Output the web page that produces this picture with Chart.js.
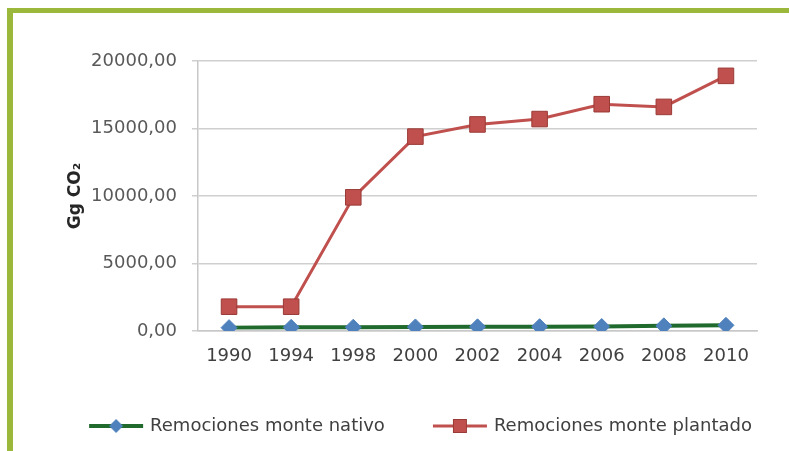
<!DOCTYPE html>
<html>
<head>
<meta charset="utf-8">
<script src="https://cdn.jsdelivr.net/npm/chart.js@4"></script>
<style>
  html, body { margin: 0; padding: 0; background: #fff; }
  #wrap { position: relative; width: 789px; height: 451px; }
  #frame {
    position: absolute; left: 7px; top: 8px; right: 0; bottom: 0;
    border-left: 6px solid #9bb83c; border-top: 5px solid #9bb83c;
    pointer-events: none;
  }
</style>
</head>
<body>
<div id="wrap">
  <canvas id="myChart" width="789" height="451"></canvas>
  <div id="frame"></div>
</div>
<script>
const years = ['1990', '1994', '1998', '2000', '2002', '2004', '2006', '2008', '2010'];
const nativo = [250, 270, 280, 300, 310, 320, 330, 380, 420];
const plantado = [1800, 1800, 9900, 14400, 15300, 15700, 16800, 16600, 18900];
const seriesNames = ['Remociones monte nativo', 'Remociones monte plantado'];
const yTickMax = 20000;
const yTickStep = 5000;

// little legend swatches: line with the marker on it
function swatch(lineColor, lineWidth, draw) {
  const c = document.createElement('canvas');
  c.width = 60; c.height = 20;
  const g = c.getContext('2d');
  g.strokeStyle = lineColor;
  g.lineWidth = lineWidth;
  g.beginPath(); g.moveTo(3, 10); g.lineTo(57, 10); g.stroke();
  draw(g);
  return c;
}
const nativoIcon = swatch('#1f6a2c', 4, g => {
  g.fillStyle = '#4f81bd';
  g.beginPath(); g.moveTo(30, 3); g.lineTo(37, 10); g.lineTo(30, 17); g.lineTo(23, 10); g.closePath(); g.fill();
});
const plantadoIcon = swatch('#c0504d', 3, g => {
  g.fillStyle = '#c0504d';
  g.fillRect(23, 3, 14, 14);
  g.strokeStyle = '#9a3a37'; g.lineWidth = 1;
  g.strokeRect(23.5, 3.5, 13, 13);
});

const ctx = document.getElementById('myChart');

new Chart(ctx, {
  type: 'line',
  data: {
    labels: years,
    datasets: [{
      label: seriesNames[0],
      data: nativo,
      borderColor: '#1f6a2c',
      borderWidth: 4,
      pointStyle: 'rectRot',
      pointRadius: 8,
      pointBackgroundColor: '#4f81bd',
      pointBorderColor: '#4f81bd',
      pointBorderWidth: 1,
      tension: 0
    }, {
      label: seriesNames[1],
      data: plantado,
      borderColor: '#c0504d',
      borderWidth: 3,
      pointStyle: 'rect',
      pointRadius: 11,
      pointBackgroundColor: '#c0504d',
      pointBorderColor: '#9a3a37',
      pointBorderWidth: 1,
      tension: 0
    }]
  },
  options: {
    responsive: false,
    animation: false,
    layout: { padding: { left: 54, right: 0, top: 61, bottom: 6 } },
    plugins: {
      tooltip: { enabled: false },
      legend: {
        position: 'bottom',
        labels: {
          usePointStyle: true,
          pointStyleWidth: 50,
          padding: 10,
          color: '#404040',
          font: { family: 'DejaVu Sans', size: 18 },
          generateLabels: chart => chart.data.datasets.map((ds, i) => ({
            text: i === 0 ? ds.label + '\u00a0'.repeat(7) : ds.label,
            pointStyle: i === 0 ? nativoIcon : plantadoIcon,
            datasetIndex: i,
            fontColor: '#404040',
            lineWidth: 0
          }))
        }
      }
    },
    scales: {
      x: {
        offset: true,
        grid: { display: false },
        border: { display: true, color: '#c8c8c8', width: 1.5 },
        ticks: { color: '#404040', padding: 7, font: { family: 'DejaVu Sans', size: 18 } },
        afterFit: s => { s.height = 76; }
      },
      y: {
        min: 0,
        max: yTickMax,
        grid: { color: '#cfcfcf', lineWidth: 1.5, tickLength: 6 },
        border: { display: true, color: '#c8c8c8', width: 1.5 },
        ticks: {
          stepSize: yTickStep,
          padding: 15,
          color: '#595959',
          font: { family: 'DejaVu Sans', size: 18 },
          callback: v => v.toFixed(2).replace('.', ',')
        },
        title: {
          display: true,
          text: 'Gg CO\u2082',
          color: '#262626',
          padding: { top: 11, bottom: 0 },
          font: { family: 'DejaVu Sans', size: 17, weight: 'bold' }
        },
        afterFit: s => { s.width = 198 - 54; }
      },
      y2: {
        position: 'right',
        grid: { display: false },
        border: { display: false },
        ticks: { display: false },
        afterFit: s => { s.width = 32; }
      }
    }
  }
});
</script>
</body>
</html>
